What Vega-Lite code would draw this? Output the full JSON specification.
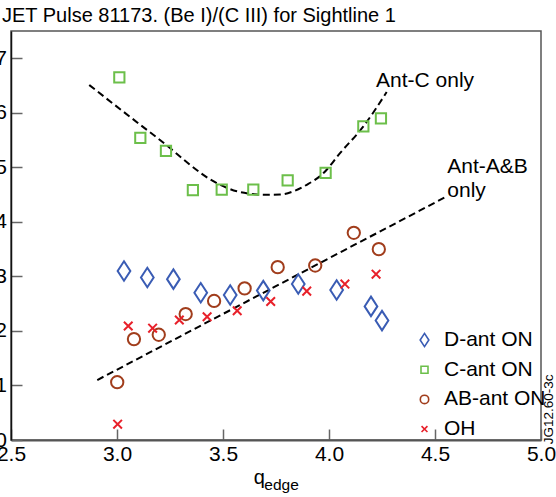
{
  "$schema": "https://vega.github.io/schema/vega-lite/v6.json",
  "width": 530,
  "height": 409,
  "autosize": {"type": "none"},
  "padding": {"left": 11, "top": 31, "right": 15, "bottom": 57},
  "background": "white",
  "config": {
    "font": "Liberation Sans",
    "view": {"stroke": "#555555", "strokeWidth": 1.5},
    "axis": {
      "grid": false,
      "labelFont": "Liberation Sans",
      "labelFontSize": 21,
      "labelColor": "#000000",
      "tickSize": -11,
      "tickColor": "#666666",
      "tickWidth": 1.5,
      "titleFont": "Liberation Sans",
      "titleFontWeight": "normal",
      "titleColor": "#000000"
    }
  },
  "title": {
    "text": "JET Pulse 81173. (Be I)/(C III) for Sightline 1",
    "anchor": "start",
    "frame": "group",
    "font": "Liberation Sans",
    "fontSize": 20,
    "fontWeight": "normal",
    "color": "#000000",
    "dx": -9,
    "offset": -11,
    "baseline": "alphabetic"
  },
  "datasets": {
    "points": [
      {"series": "D-ant ON", "q": 3.033, "v": 3.10},
      {"series": "D-ant ON", "q": 3.143, "v": 2.98},
      {"series": "D-ant ON", "q": 3.266, "v": 2.95},
      {"series": "D-ant ON", "q": 3.395, "v": 2.70},
      {"series": "D-ant ON", "q": 3.534, "v": 2.66},
      {"series": "D-ant ON", "q": 3.690, "v": 2.74},
      {"series": "D-ant ON", "q": 3.855, "v": 2.86},
      {"series": "D-ant ON", "q": 4.036, "v": 2.75},
      {"series": "D-ant ON", "q": 4.198, "v": 2.45},
      {"series": "D-ant ON", "q": 4.250, "v": 2.19},
      {"series": "C-ant ON", "q": 3.011, "v": 6.65},
      {"series": "C-ant ON", "q": 3.110, "v": 5.54},
      {"series": "C-ant ON", "q": 3.231, "v": 5.30},
      {"series": "C-ant ON", "q": 3.358, "v": 4.58},
      {"series": "C-ant ON", "q": 3.494, "v": 4.59},
      {"series": "C-ant ON", "q": 3.643, "v": 4.59},
      {"series": "C-ant ON", "q": 3.805, "v": 4.76},
      {"series": "C-ant ON", "q": 3.984, "v": 4.90},
      {"series": "C-ant ON", "q": 4.162, "v": 5.75},
      {"series": "C-ant ON", "q": 4.245, "v": 5.90},
      {"series": "AB-ant ON", "q": 3.001, "v": 1.06},
      {"series": "AB-ant ON", "q": 3.080, "v": 1.85},
      {"series": "AB-ant ON", "q": 3.197, "v": 1.93},
      {"series": "AB-ant ON", "q": 3.324, "v": 2.31},
      {"series": "AB-ant ON", "q": 3.458, "v": 2.55},
      {"series": "AB-ant ON", "q": 3.602, "v": 2.78},
      {"series": "AB-ant ON", "q": 3.758, "v": 3.17},
      {"series": "AB-ant ON", "q": 3.935, "v": 3.20},
      {"series": "AB-ant ON", "q": 4.117, "v": 3.80},
      {"series": "AB-ant ON", "q": 4.235, "v": 3.50},
      {"series": "OH", "q": 3.003, "v": 0.29},
      {"series": "OH", "q": 3.053, "v": 2.09},
      {"series": "OH", "q": 3.168, "v": 2.05},
      {"series": "OH", "q": 3.294, "v": 2.20},
      {"series": "OH", "q": 3.425, "v": 2.26},
      {"series": "OH", "q": 3.567, "v": 2.37},
      {"series": "OH", "q": 3.725, "v": 2.54},
      {"series": "OH", "q": 3.895, "v": 2.73},
      {"series": "OH", "q": 4.075, "v": 2.86},
      {"series": "OH", "q": 4.222, "v": 3.04}
    ],
    "curves": [
      {"curve": "Ant-C only", "q": 2.869, "v": 6.51},
      {"curve": "Ant-C only", "q": 3.187, "v": 5.55},
      {"curve": "Ant-C only", "q": 3.486, "v": 4.68},
      {"curve": "Ant-C only", "q": 3.565, "v": 4.56},
      {"curve": "Ant-C only", "q": 3.642, "v": 4.51},
      {"curve": "Ant-C only", "q": 3.689, "v": 4.495},
      {"curve": "Ant-C only", "q": 3.769, "v": 4.50},
      {"curve": "Ant-C only", "q": 3.832, "v": 4.56},
      {"curve": "Ant-C only", "q": 3.895, "v": 4.68},
      {"curve": "Ant-C only", "q": 3.973, "v": 4.89},
      {"curve": "Ant-C only", "q": 4.052, "v": 5.26},
      {"curve": "Ant-C only", "q": 4.162, "v": 5.75},
      {"curve": "Ant-C only", "q": 4.272, "v": 6.38},
      {"curve": "Ant-A&B only", "q": 2.907, "v": 1.10},
      {"curve": "Ant-A&B only", "q": 4.547, "v": 4.45}
    ],
    "labels": [
      {"q": 4.222, "v": 6.48, "t": "Ant-C only"},
      {"q": 4.558, "v": 4.894, "t": "Ant-A&B"},
      {"q": 4.558, "v": 4.453, "t": "only"}
    ],
    "stamp": [
      {"q": 5.038, "v": 0.56, "t": "JG12.60-3c"}
    ],
    "sub": [
      {"q": 3.695, "v": -0.917, "t": "edge"}
    ]
  },
  "layer": [
    {
      "data": {"name": "curves"},
      "mark": {"type": "line", "color": "#000000", "strokeWidth": 2, "strokeDash": [7, 4], "interpolate": "monotone"},
      "encoding": {
        "x": {
          "field": "q", "type": "quantitative",
          "scale": {"domain": [2.5, 5.0], "nice": false, "zero": false},
          "axis": {
            "values": [2.5, 3.0, 3.5, 4.0, 4.5, 5.0],
            "format": ".1f",
            "labelPadding": 14,
            "domainColor": "#555555",
            "domainWidth": 2,
            "title": "q",
            "titleFontSize": 20,
            "titleX": 242.3,
            "titleY": 43.4,
            "titleAlign": "left",
            "titleBaseline": "alphabetic",
            "labelFlush": false
          }
        },
        "y": {
          "field": "v", "type": "quantitative",
          "scale": {"domain": [0, 7.5], "nice": false, "zero": false},
          "axis": {
            "values": [0, 1, 2, 3, 4, 5, 6, 7],
            "format": "d",
            "labelPadding": 15.5,
            "domainColor": "#111111",
            "domainWidth": 1.5,
            "title": null,
            "labelFlush": false
          }
        },
        "detail": {"field": "curve"}
      }
    },
    {
      "data": {"name": "points"},
      "mark": {"type": "point", "filled": false, "strokeWidth": 2, "size": 420, "opacity": 1},
      "encoding": {
        "x": {"field": "q", "type": "quantitative"},
        "y": {"field": "v", "type": "quantitative"},
        "shape": {
          "field": "series", "type": "nominal",
          "scale": {
            "domain": ["D-ant ON", "C-ant ON", "AB-ant ON", "OH"],
            "range": [
              "M0,-0.95L0.62,0L0,0.95L-0.62,0Z",
              "M-0.5,-0.5L0.5,-0.5L0.5,0.5L-0.5,0.5Z",
              "M-0.6,0A0.6,0.6,0,1,0,0.6,0A0.6,0.6,0,1,0,-0.6,0Z",
              "M-0.42,-0.42L0.42,0.42M-0.42,0.42L0.42,-0.42"
            ]
          },
          "legend": {
            "title": null,
            "orient": "none",
            "legendX": 403,
            "legendY": 298.5,
            "padding": 0,
            "labelFont": "Liberation Sans",
            "labelFontSize": 21,
            "labelColor": "#000000",
            "labelOffset": 9,
            "rowPadding": 7.7,
            "symbolSize": 196,
            "symbolStrokeWidth": 1.6
          }
        },
        "color": {
          "field": "series", "type": "nominal",
          "scale": {
            "domain": ["D-ant ON", "C-ant ON", "AB-ant ON", "OH"],
            "range": ["#3a5cb4", "#6cbf4a", "#a13d1c", "#e8202a"]
          },
          "legend": {
            "title": null,
            "orient": "none",
            "legendX": 403,
            "legendY": 298.5,
            "padding": 0,
            "labelFont": "Liberation Sans",
            "labelFontSize": 21,
            "labelColor": "#000000",
            "labelOffset": 9,
            "rowPadding": 7.7,
            "symbolSize": 196,
            "symbolStrokeWidth": 1.6
          }
        }
      }
    },
    {
      "data": {"name": "labels"},
      "mark": {"type": "text", "align": "left", "baseline": "alphabetic", "font": "Liberation Sans", "fontSize": 21, "color": "#000000"},
      "encoding": {
        "x": {"field": "q", "type": "quantitative"},
        "y": {"field": "v", "type": "quantitative"},
        "text": {"field": "t"}
      }
    },
    {
      "data": {"name": "stamp"},
      "mark": {"type": "text", "align": "center", "baseline": "middle", "angle": 270, "font": "Liberation Sans", "fontSize": 13.5, "color": "#000000"},
      "encoding": {
        "x": {"field": "q", "type": "quantitative"},
        "y": {"field": "v", "type": "quantitative"},
        "text": {"field": "t"}
      }
    },
    {
      "data": {"name": "sub"},
      "mark": {"type": "text", "align": "left", "baseline": "alphabetic", "font": "Liberation Sans", "fontSize": 15.5, "color": "#000000"},
      "encoding": {
        "x": {"field": "q", "type": "quantitative"},
        "y": {"field": "v", "type": "quantitative"},
        "text": {"field": "t"}
      }
    }
  ]
}
